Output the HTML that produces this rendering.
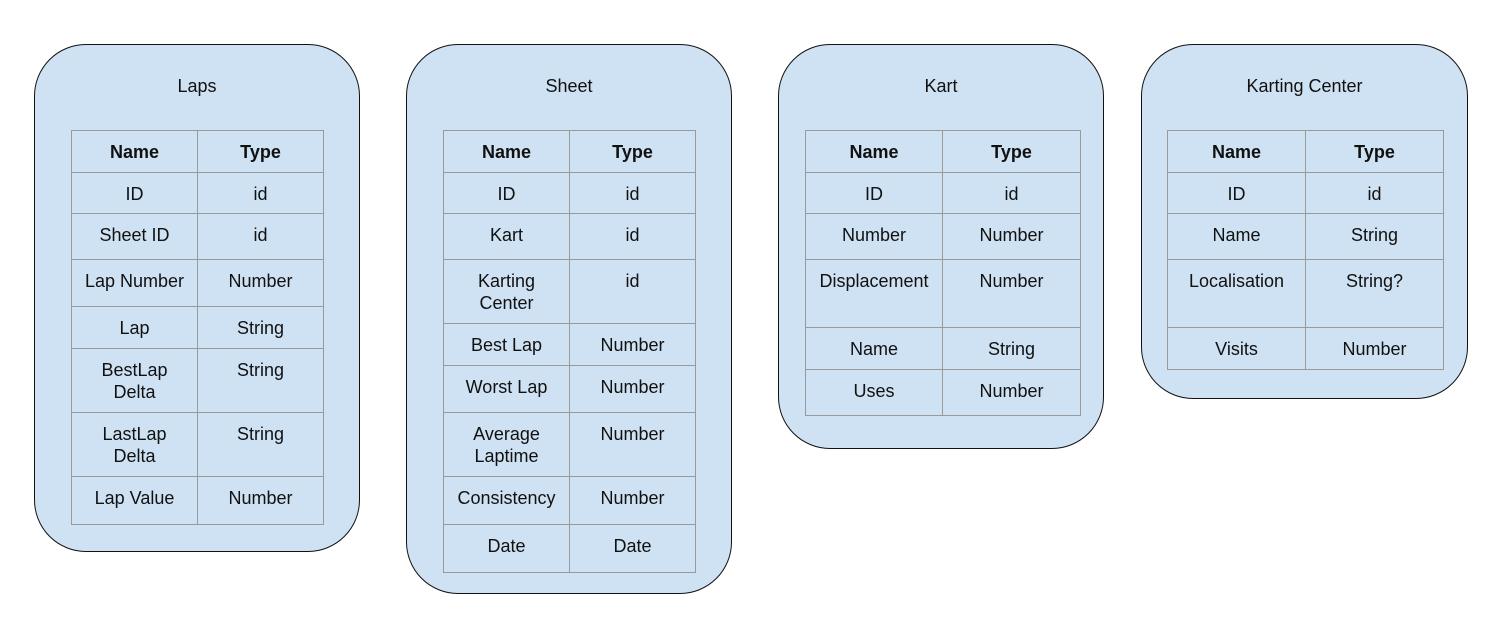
<!DOCTYPE html>
<html><head><meta charset="utf-8">
<style>
body{margin:0;width:1509px;height:638px;background:#fff;position:relative;overflow:hidden;font-family:"Liberation Sans",Arial,sans-serif;color:#111;}
.box{position:absolute;background:#cfe2f3;border:1.3px solid #111;border-radius:52px;box-sizing:border-box;}
.title{position:absolute;left:0;right:0;top:31px;text-align:center;font-size:18px;}
.cell{position:absolute;box-sizing:border-box;border:1px solid #9a9a9a;text-align:center;font-size:18px;line-height:22px;padding-top:10px;}
.hd{font-weight:bold;}
</style></head><body>
<script>
const tables=[
 {name:"Laps",box:[34,44,360,552],tx:[71,197,323],rows:[130,172,213,259,306,348,412,476,524],
  cells:[["Name","Type"],["ID","id"],["Sheet ID","id"],["Lap Number","Number"],["Lap","String"],["BestLap<br>Delta","String"],["LastLap<br>Delta","String"],["Lap Value","Number"]]},
 {name:"Sheet",box:[406,44,732,594],tx:[443,569,695],rows:[130,172,213,259,323,365,412,476,524,572],
  cells:[["Name","Type"],["ID","id"],["Kart","id"],["Karting<br>Center","id"],["Best Lap","Number"],["Worst Lap","Number"],["Average<br>Laptime","Number"],["Consistency","Number"],["Date","Date"]]},
 {name:"Kart",box:[778,44,1104,449],tx:[805,942,1080],rows:[130,172,213,259,327,369,415],
  cells:[["Name","Type"],["ID","id"],["Number","Number"],["Displacement","Number"],["Name","String"],["Uses","Number"]]},
 {name:"Karting Center",box:[1141,44,1468,399],tx:[1167,1305,1443],rows:[130,172,213,259,327,369],
  cells:[["Name","Type"],["ID","id"],["Name","String"],["Localisation","String?"],["Visits","Number"]]}
];
tables.forEach(t=>{
  const b=document.createElement('div');
  b.className='box';
  
  
  b.style.cssText=`left:${t.box[0]}px;top:${t.box[1]}px;width:${t.box[2]-t.box[0]}px;height:${t.box[3]-t.box[1]}px`;
  const ti=document.createElement('div');
  ti.className='title';
  
  
  ti.textContent=t.name;
  b.appendChild(ti);
  document.body.appendChild(b);
  t.cells.forEach((r,i)=>{
    for(let c=0;c<2;c++){
      const d=document.createElement('div');
      d.className='cell'+(i===0?' hd':'');
      
      
      const x0=t.tx[c],x1=t.tx[c+1],y0=t.rows[i],y1=t.rows[i+1];
      d.style.cssText=`left:${x0}px;top:${y0}px;width:${x1-x0+1}px;height:${y1-y0+1}px`;
      d.innerHTML=r[c];
      document.body.appendChild(d);
    }
  });
});
</script>
</body></html>
